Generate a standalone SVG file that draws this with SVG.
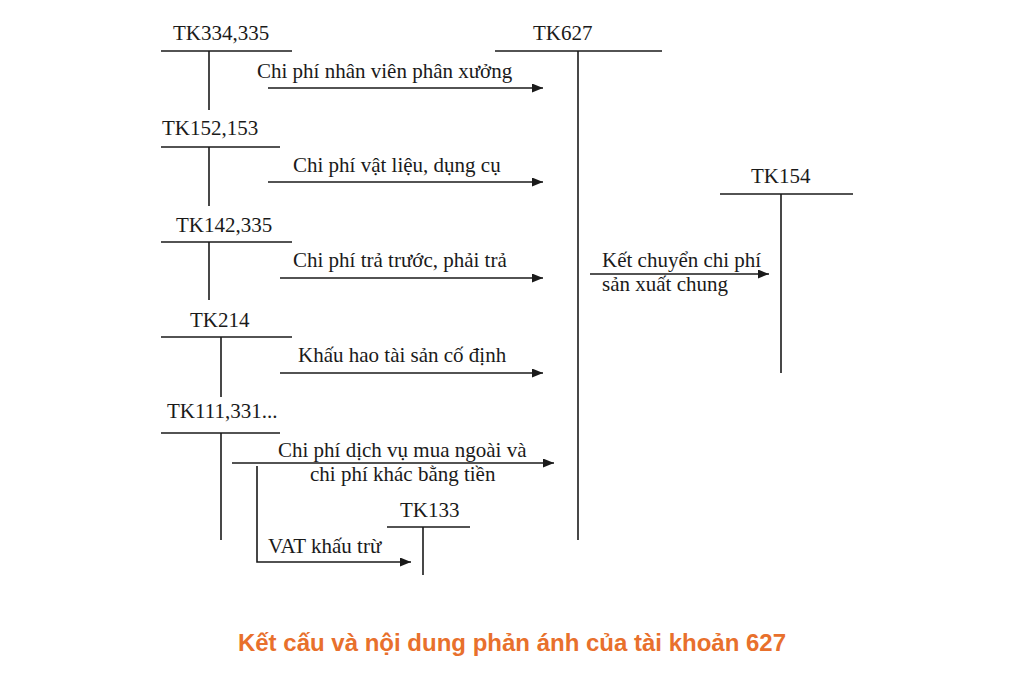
<svg xmlns="http://www.w3.org/2000/svg" width="1024" height="684" viewBox="0 0 1024 684">
<style>
.ln{stroke:#1a1a1a;stroke-width:1.6;fill:none}
.t{font-family:"Liberation Serif","Times New Roman",serif;font-size:21px;fill:#1a1a1a}
.title{font-family:"Liberation Sans",Arial,sans-serif;font-size:24px;font-weight:bold;fill:#E8702C}
</style>
<defs>
<marker id="ah" viewBox="0 0 11 9" refX="11" refY="4.5" markerWidth="11" markerHeight="9" markerUnits="userSpaceOnUse" orient="auto">
<path d="M0,0 L11,4.5 L0,9 Z" fill="#1a1a1a"/>
</marker>
</defs>
<rect width="1024" height="684" fill="#ffffff"/>
<g id="tk334">
<text class="t" x="173" y="40">TK334,335</text>
<line class="ln" x1="161" y1="51" x2="292" y2="51"/>
<line class="ln" x1="209" y1="51" x2="209" y2="110"/>
</g>
<g id="tk152">
<text class="t" x="162" y="135">TK152,153</text>
<line class="ln" x1="161" y1="147" x2="280" y2="147"/>
<line class="ln" x1="209" y1="147" x2="209" y2="206"/>
</g>
<g id="tk142">
<text class="t" x="176" y="232">TK142,335</text>
<line class="ln" x1="161" y1="242" x2="292" y2="242"/>
<line class="ln" x1="209" y1="242" x2="209" y2="300"/>
</g>
<g id="tk214">
<text class="t" x="190" y="327">TK214</text>
<line class="ln" x1="161" y1="337" x2="292" y2="337"/>
<line class="ln" x1="221" y1="337" x2="221" y2="397"/>
</g>
<g id="tk111">
<text class="t" x="167" y="418">TK111,331...</text>
<line class="ln" x1="161" y1="433" x2="280" y2="433"/>
<line class="ln" x1="221" y1="433" x2="221" y2="540"/>
</g>
<g id="tk133">
<text class="t" x="400" y="517">TK133</text>
<line class="ln" x1="387" y1="527" x2="470" y2="527"/>
<line class="ln" x1="423" y1="527" x2="423" y2="575"/>
</g>
<g id="tk627">
<text class="t" x="533" y="40">TK627</text>
<line class="ln" x1="495" y1="51" x2="662" y2="51"/>
<line class="ln" x1="578" y1="51" x2="578" y2="540"/>
</g>
<g id="tk154">
<text class="t" x="751" y="183">TK154</text>
<line class="ln" x1="720" y1="194" x2="853" y2="194"/>
<line class="ln" x1="781" y1="194" x2="781" y2="373"/>
</g>
<g id="connectors">
<line class="ln" x1="268" y1="88" x2="543" y2="88" marker-end="url(#ah)"/>
<text class="t" x="257" y="78">Chi phí nhân viên phân xưởng</text>
<line class="ln" x1="268" y1="182" x2="543" y2="182" marker-end="url(#ah)"/>
<text class="t" x="293" y="172">Chi phí vật liệu, dụng cụ</text>
<line class="ln" x1="280" y1="278" x2="543" y2="278" marker-end="url(#ah)"/>
<text class="t" x="293" y="267">Chi phí trả trước, phải trả</text>
<line class="ln" x1="280" y1="373" x2="543" y2="373" marker-end="url(#ah)"/>
<text class="t" x="298" y="362">Khấu hao tài sản cố định</text>
<line class="ln" x1="232" y1="463" x2="554" y2="463" marker-end="url(#ah)"/>
<text class="t" x="278" y="457">Chi phí dịch vụ mua ngoài và</text>
<text class="t" x="310" y="481">chi phí khác bằng tiền</text>
<polyline class="ln" points="257,466 257,562 411,562" marker-end="url(#ah)"/>
<text class="t" x="268" y="553">VAT khấu trừ</text>
<line class="ln" x1="590" y1="274" x2="769" y2="274" marker-end="url(#ah)"/>
<text class="t" x="602" y="267">Kết chuyển chi phí</text>
<text class="t" x="602" y="291">sản xuất chung</text>
</g>
<text class="title" x="512" y="651" text-anchor="middle">Kết cấu và nội dung phản ánh của tài khoản 627</text>
</svg>
